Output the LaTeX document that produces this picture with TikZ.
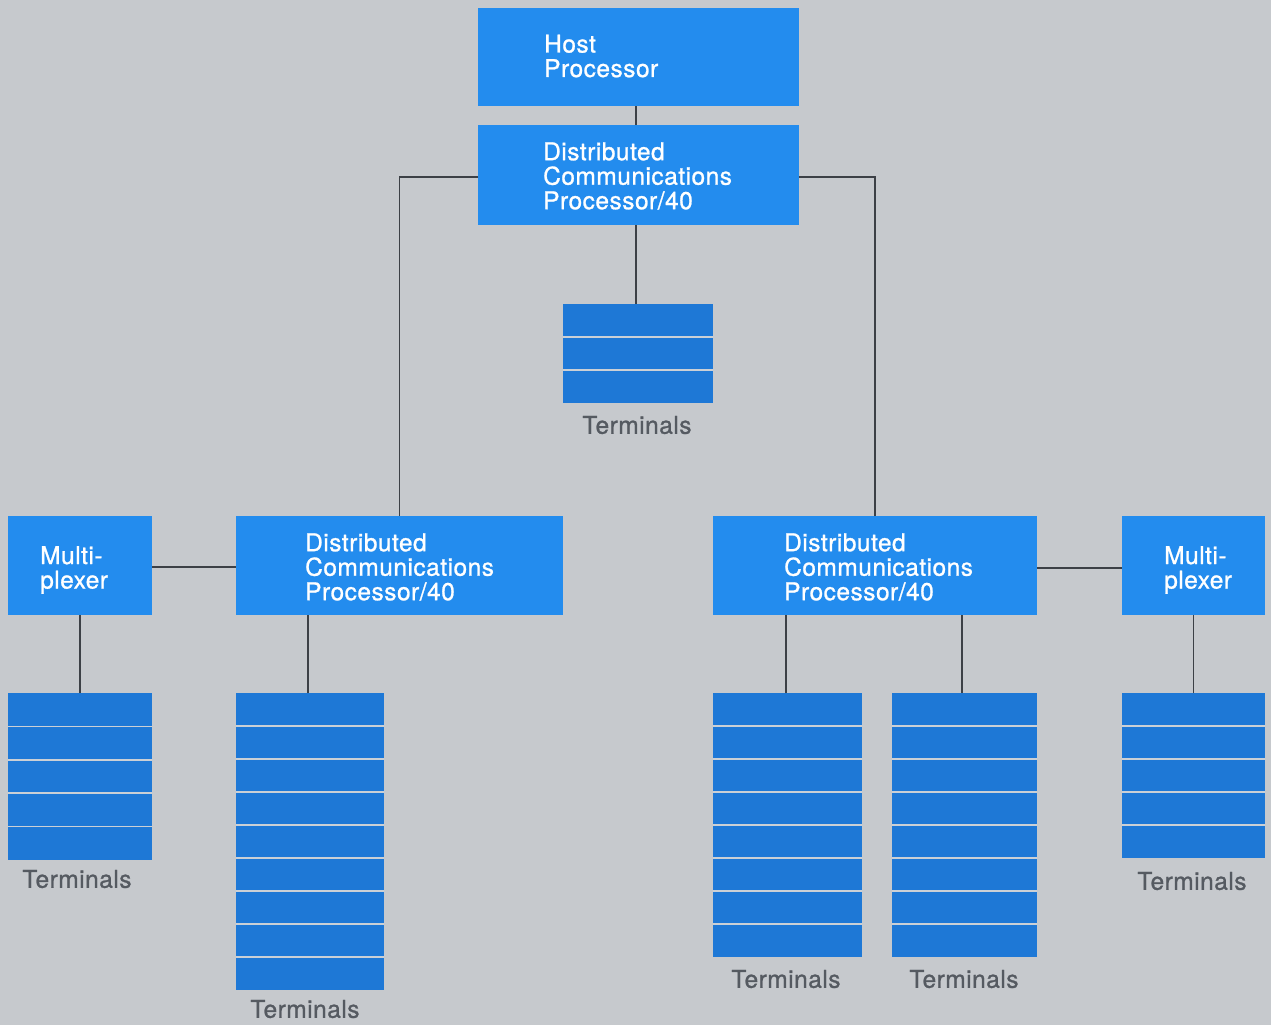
\documentclass[tikz,border=0pt]{standalone}
\usepackage{fontspec}
\setmainfont{TeX Gyre Heros}
\usetikzlibrary{calc}
\definecolor{bgc}{HTML}{C6C9CD}
\definecolor{boxc}{HTML}{238CEE}
\definecolor{termc}{HTML}{1E78D6}
\definecolor{sepc}{HTML}{CBD0D6}
\definecolor{linec}{HTML}{3C4046}
\definecolor{lblc}{HTML}{555A61}
\tikzset{
  unitbox/.style={rectangle, fill=boxc, draw=none, inner sep=0pt, outer sep=0pt},
  termbox/.style={rectangle, fill=termc, draw=none, inner sep=0pt, outer sep=0pt},
  boxtext/.style={anchor=west, align=left, text=white, inner sep=0pt,
    font=\fontsize{24.5}{24.5}\selectfont\addfontfeatures{LetterSpace=2,FakeBold=1}},
  termlabel/.style={text=lblc, inner sep=0pt,
    font=\fontsize{24.5}{24.5}\selectfont\addfontfeatures{LetterSpace=2,FakeBold=1}},
  sepline/.style={draw=sepc, line width=1.6pt},
  wire/.style={draw=linec, line width=1.3pt},
}
\newcommand{\tstack}[6]{%
  \node[termbox, minimum width=#4, minimum height=#5] (#1) at (#2,#3) {};
  \pgfmathtruncatemacro{\nlast}{#6-1}%
  \foreach \i in {1,...,\nlast}{%
    \draw[sepline] ($(#1.north west)!\i/#6!(#1.south west)$) -- ($(#1.north east)!\i/#6!(#1.south east)$);
  }%
}
\begin{document}
\begin{tikzpicture}[x=1pt, y=-1pt]
\fill[bgc] (0,0) rectangle (1271,1025);
\useasboundingbox (0,0) rectangle (1271,1025);

% processor and multiplexer boxes
\node[unitbox, minimum width=321, minimum height=98] (host) at (638.5,57) {};
\node[unitbox, minimum width=321, minimum height=100] (dcp0) at (638.5,175) {};
\node[unitbox, minimum width=327, minimum height=99] (dcpL) at (399.5,565.5) {};
\node[unitbox, minimum width=144, minimum height=99] (muxL) at (80,565.5) {};
\node[unitbox, minimum width=324, minimum height=99] (dcpR) at (875,565.5) {};
\node[unitbox, minimum width=143, minimum height=99] (muxR) at (1193.5,565.5) {};

% texts in boxes
\node[boxtext] (hostT) at (544,56) {Host\\Processor};
\node[boxtext] (dcp0T) at (543,176) {Distributed\\Communications\\Processor/40};
\node[boxtext] (dcpLT) at (305,567) {Distributed\\Communications\\Processor/40};
\node[boxtext] (dcpRT) at (784,567) {Distributed\\Communications\\Processor/40};
\node[boxtext] (muxLT) at (40,570) {Multi-\\plexer};
\node[boxtext] (muxRT) at (1164,570) {Multi-\\plexer};

% terminal stacks
\tstack{term0}{638}{353.5}{150}{99}{3}
\tstack{termML}{80}{776.5}{144}{167}{5}
\tstack{termDL}{310}{841.5}{148}{297}{9}
\tstack{termR1}{787.5}{825}{149}{264}{8}
\tstack{termR2}{964.5}{825}{145}{264}{8}
\tstack{termMR}{1193.5}{775.5}{143}{165}{5}

% terminal labels
\node[termlabel] (term0L) at (637,425) {Terminals};
\node[termlabel] (termMLL) at (77,879) {Terminals};
\node[termlabel] (termDLL) at (305,1009) {Terminals};
\node[termlabel] (termR1L) at (786,979) {Terminals};
\node[termlabel] (termR2L) at (964,979) {Terminals};
\node[termlabel] (termMRL) at (1192,881) {Terminals};

% connectors
\draw[wire] ($(host.south)+(-2.5,0)$) -- ($(dcp0.north)+(-2.5,0)$);
\draw[wire] ($(dcp0.south)+(-2.5,0)$) -- ($(term0.north)+(-2,0)$);
\draw[wire] ($(dcp0.west)+(0,2)$) -| (dcpL.north);
\draw[wire] ($(dcp0.east)+(0,2)$) -| (dcpR.north);
\draw[wire] ($(muxL.east)+(0,1.5)$) -- ($(dcpL.west)+(0,1.5)$);
\draw[wire] ($(dcpR.east)+(0,2.5)$) -- ($(muxR.west)+(0,2.5)$);
\draw[wire] (termML.north) -- (termML.north |- muxL.south);
\draw[wire] ($(termDL.north)+(-2,0)$) -- ($(termDL.north |- dcpL.south)+(-2,0)$);
\draw[wire] ($(termR1.north)+(-1.5,0)$) -- ($(termR1.north |- dcpR.south)+(-1.5,0)$);
\draw[wire] ($(termR2.north)+(-2.5,0)$) -- ($(termR2.north |- dcpR.south)+(-2.5,0)$);
\draw[wire] (termMR.north) -- (termMR.north |- muxR.south);
\end{tikzpicture}
\end{document}
